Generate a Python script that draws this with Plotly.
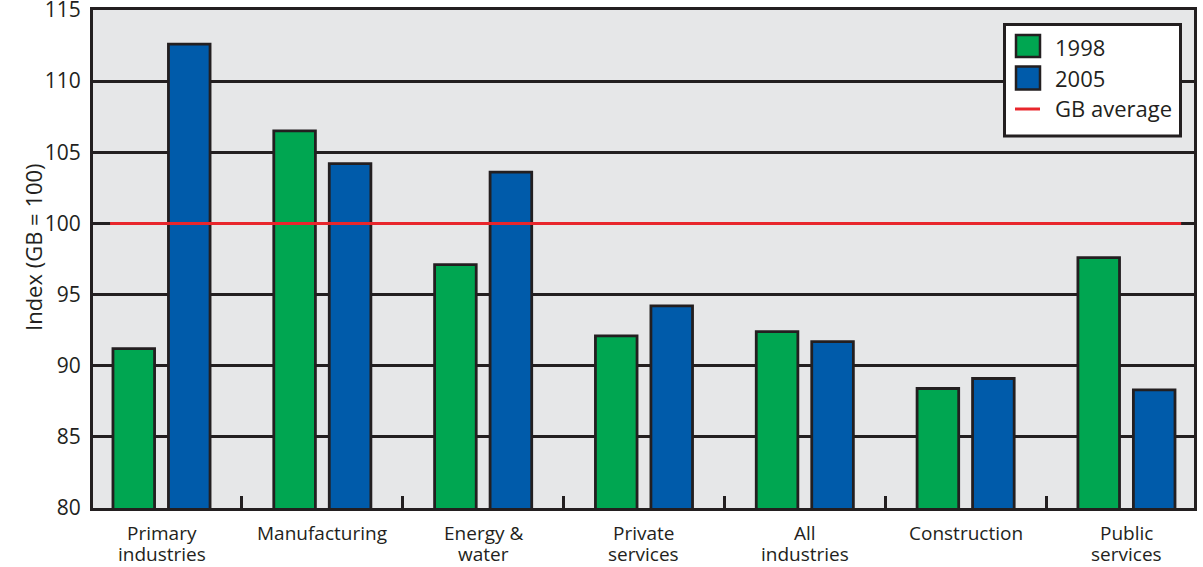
import plotly.graph_objects as go

# Productivity index by industry group (GB = 100)
categories = ["Primary<br>industries", "Manufacturing", "Energy &<br>water",
              "Private<br>services", "All<br>industries", "Construction",
              "Public<br>services"]
values_1998 = [91.2, 106.5, 97.1, 92.1, 92.4, 88.4, 97.6]
values_2005 = [112.6, 104.2, 103.6, 94.2, 91.7, 89.1, 88.3]
gb_average = 100
y_ticks = [80, 85, 90, 95, 100, 105, 110, 115]

GREEN = "#00a651"
BLUE = "#005baa"
RED = "#e8262c"
INK = "#231f20"
PANEL = "#e6e7e8"
FONT = "Open Sans"

W, H = 1203, 567
ML, MR, MT, MB = 93, 9, 10, 59
PL, PR, PT, PB = ML, W - MR, MT, H - MB


def px(x):
    return (x - PL) / (PR - PL)


def py(y):
    return (PB - y) / (PB - PT)


xpos = list(range(len(categories)))

fig = go.Figure()
fig.add_trace(go.Bar(x=xpos, y=values_1998, name="1998", marker_color=GREEN,
                     marker_line=dict(color=INK, width=2.8), showlegend=False))
fig.add_trace(go.Bar(x=xpos, y=values_2005, name="2005", marker_color=BLUE,
                     marker_line=dict(color=INK, width=2.8), showlegend=False))

# GB average reference line across the bar groups
fig.add_trace(go.Scatter(x=[xpos[0] - 0.32, xpos[-1] + 0.34],
                         y=[gb_average, gb_average], mode="lines",
                         line=dict(color=RED, width=3), name="GB average",
                         showlegend=False, hoverinfo="skip"))

annotations = []
# Category labels, one annotation per line
for i, label in enumerate(categories):
    for j, line in enumerate(label.split("<br>")):
        annotations.append(dict(x=xpos[i], y=0, xref="x", yref="paper",
                                text=line, showarrow=False, xanchor="center",
                                yanchor="middle", yshift=-25 - 21 * j,
                                font=dict(family=FONT, size=19, color=INK)))

# Y axis title
annotations.append(dict(x=px(33), y=py(247), xref="paper", yref="paper",
                        text="Index (GB = 100)", textangle=-90,
                        showarrow=False, xanchor="center", yanchor="middle",
                        font=dict(family=FONT, size=22, color=INK)))

# Legend box
shapes = [
    dict(type="rect", xref="paper", yref="paper", x0=px(1004.5), x1=px(1180.5),
         y0=py(136), y1=py(24.5), fillcolor="white",
         line=dict(color=INK, width=3), layer="above"),
    dict(type="rect", xref="paper", yref="paper", x0=px(1016), x1=px(1040),
         y0=py(57), y1=py(35), fillcolor=GREEN,
         line=dict(color=INK, width=2.5), layer="above"),
    dict(type="rect", xref="paper", yref="paper", x0=px(1016), x1=px(1040),
         y0=py(89.5), y1=py(66.5), fillcolor=BLUE,
         line=dict(color=INK, width=2.5), layer="above"),
    dict(type="line", xref="paper", yref="paper", x0=px(1015), x1=px(1040),
         y0=py(109), y1=py(109), line=dict(color=RED, width=3), layer="above"),
]
for text, yc in [("1998", 46.5), ("2005", 78), ("GB average", 108)]:
    annotations.append(dict(x=px(1053), y=py(yc), xref="paper", yref="paper",
                            text=text, showarrow=False, xanchor="left",
                            yanchor="middle",
                            font=dict(family=FONT, size=22, color=INK)))

fig.update_layout(
    width=W, height=H,
    margin=dict(l=ML, r=MR, t=MT, b=MB, pad=0, autoexpand=False),
    paper_bgcolor="white", plot_bgcolor=PANEL,
    barmode="group", bargap=0.31, bargroupgap=0.25,
    font=dict(family=FONT, size=20, color=INK),
    shapes=shapes, annotations=annotations,
    xaxis=dict(range=[-0.426, 6.42], tickvals=[i + 0.5 for i in xpos[:-1]],
               showticklabels=False, ticks="inside", ticklen=12,
               tickwidth=2.5, tickcolor=INK, showgrid=False, zeroline=False,
               showline=True, linewidth=3, linecolor=INK, mirror=True,
               automargin=False),
    yaxis=dict(range=[80, 115], tickvals=y_ticks, showgrid=True,
               gridcolor=INK, gridwidth=2.5, zeroline=False,
               showline=True, linewidth=3, linecolor=INK, mirror=True,
               ticks="", ticklabelstandoff=5, ticklabeloverflow="allow",
               automargin=False,
               tickfont=dict(family=FONT, size=21, color=INK)),
)

fig.write_html("out.html")
